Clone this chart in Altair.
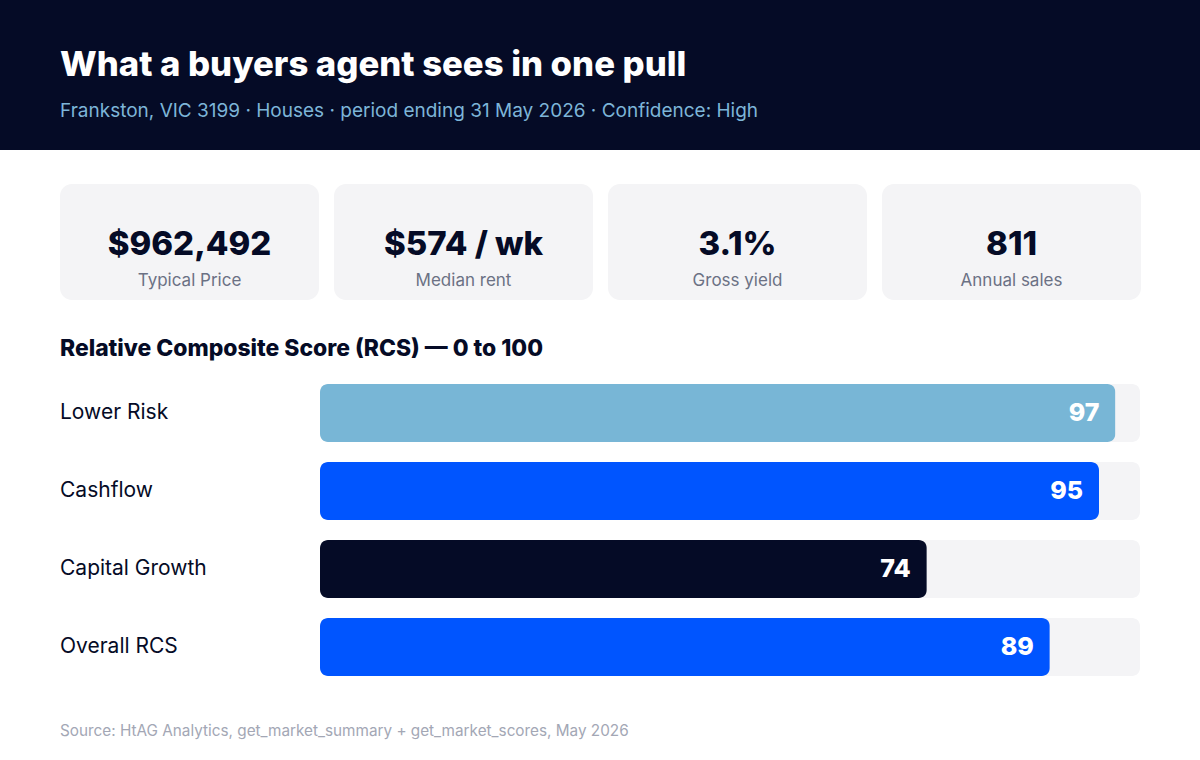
import altair as alt
import pandas as pd

# ---- text ----
TITLE = "What a buyers agent sees in one pull"
SUBTITLE = "Frankston, VIC 3199 · Houses · period ending 31 May 2026 · Confidence: High"
SECTION = "Relative Composite Score (RCS) — 0 to 100"
SOURCE = "Source: HtAG Analytics, get_market_summary + get_market_scores, May 2026"

# ---- data ----
kpi_values = ["$962,492", "$574 / wk", "3.1%", "811"]
kpi_labels = ["Typical Price", "Median rent", "Gross yield", "Annual sales"]

categories = ["Lower Risk", "Cashflow", "Capital Growth", "Overall RCS"]
scores = [97, 95, 74, 89]

# ---- style ----
FONT = "Inter"
NAVY = "#050B26"
CARD = "#F4F4F6"
BAR_COLORS = ["#78B6D6", "#0055FF", "#050B26", "#0055FF"]
W, H = 1200, 760

one = pd.DataFrame({"k": [0]})
kpi = pd.DataFrame({"label": kpi_labels, "value": kpi_values})
bars = pd.DataFrame({"category": categories, "score": scores})

# header band
header = alt.Chart(one).mark_rect(color=NAVY).encode(
    x=alt.value(0), x2=alt.value(W), y=alt.value(0), y2=alt.value(150)
)
title = alt.Chart(one).mark_text(
    text=TITLE, font=FONT, fontSize=34.7, fontWeight=800, color="white",
    align="left", baseline="alphabetic"
).encode(x=alt.value(60), y=alt.value(76))
subtitle = alt.Chart(one).mark_text(
    text=SUBTITLE, font=FONT, fontSize=19, color="#7DB5D8",
    align="left", baseline="alphabetic"
).encode(x=alt.value(60), y=alt.value(117))

# KPI cards
card_x = alt.X(
    "label:N",
    scale=alt.Scale(domain=kpi_labels, range=[60, 1141], paddingInner=15 / 274, paddingOuter=0),
    axis=None, sort=kpi_labels,
)
cards = alt.Chart(kpi).mark_rect(color=CARD, cornerRadius=12).encode(
    x=card_x, y=alt.value(184), y2=alt.value(300)
)
card_vals = alt.Chart(kpi).mark_text(
    font=FONT, fontSize=33, fontWeight=800, color=NAVY, align="center", baseline="alphabetic"
).encode(x=card_x, y=alt.value(255), text="value:N")
card_labs = alt.Chart(kpi).mark_text(
    font=FONT, fontSize=17, color="#6B7184", align="center", baseline="alphabetic"
).encode(x=card_x, y=alt.value(286), text="label:N")
card_group = alt.layer(cards, card_vals, card_labs)

section = alt.Chart(one).mark_text(
    text=SECTION, font=FONT, fontSize=22.9, fontWeight=800, color=NAVY,
    align="left", baseline="alphabetic"
).encode(x=alt.value(60), y=alt.value(356))

# bars
bx = alt.Scale(domain=[0, 100], range=[320, 1140], zero=True, nice=False)
by = alt.Scale(domain=categories, range=[374, 686], paddingInner=20 / 78, paddingOuter=10 / 78)
ych = alt.Y("category:N", scale=by, axis=None, sort=categories)

track = alt.Chart(bars).transform_calculate(full="100").mark_bar(
    color=CARD, cornerRadius=8
).encode(x=alt.X("full:Q", scale=bx, axis=None), y=ych)
bar = alt.Chart(bars).mark_bar(cornerRadius=8).encode(
    x=alt.X("score:Q", scale=bx, axis=None),
    y=ych,
    color=alt.Color("category:N", scale=alt.Scale(domain=categories, range=BAR_COLORS), legend=None),
)
val_text = alt.Chart(bars).mark_text(
    font=FONT, fontSize=25, fontWeight=800, color="white", align="right", baseline="middle", dx=-16
).encode(x=alt.X("score:Q", scale=bx, axis=None), y=ych, text="score:Q")
cat_text = alt.Chart(bars).mark_text(
    font=FONT, fontSize=21, color=NAVY, align="left", baseline="middle"
).encode(x=alt.value(60), y=ych, text="category:N")
bar_group = alt.layer(track, bar, val_text, cat_text)

source = alt.Chart(one).mark_text(
    text=SOURCE, font=FONT, fontSize=15.3, color="#A3A7B5", align="left", baseline="alphabetic"
).encode(x=alt.value(60), y=alt.value(736))

chart = alt.layer(
    header, title, subtitle, card_group, section, bar_group, source
).resolve_scale(x="independent", y="independent", color="independent").properties(
    width=W, height=H, padding=0, background="white",
    autosize=alt.AutoSizeParams(type="none"),
).configure_view(stroke=None)

chart.save("out.html", embed_options={"renderer": "svg", "actions": False})
